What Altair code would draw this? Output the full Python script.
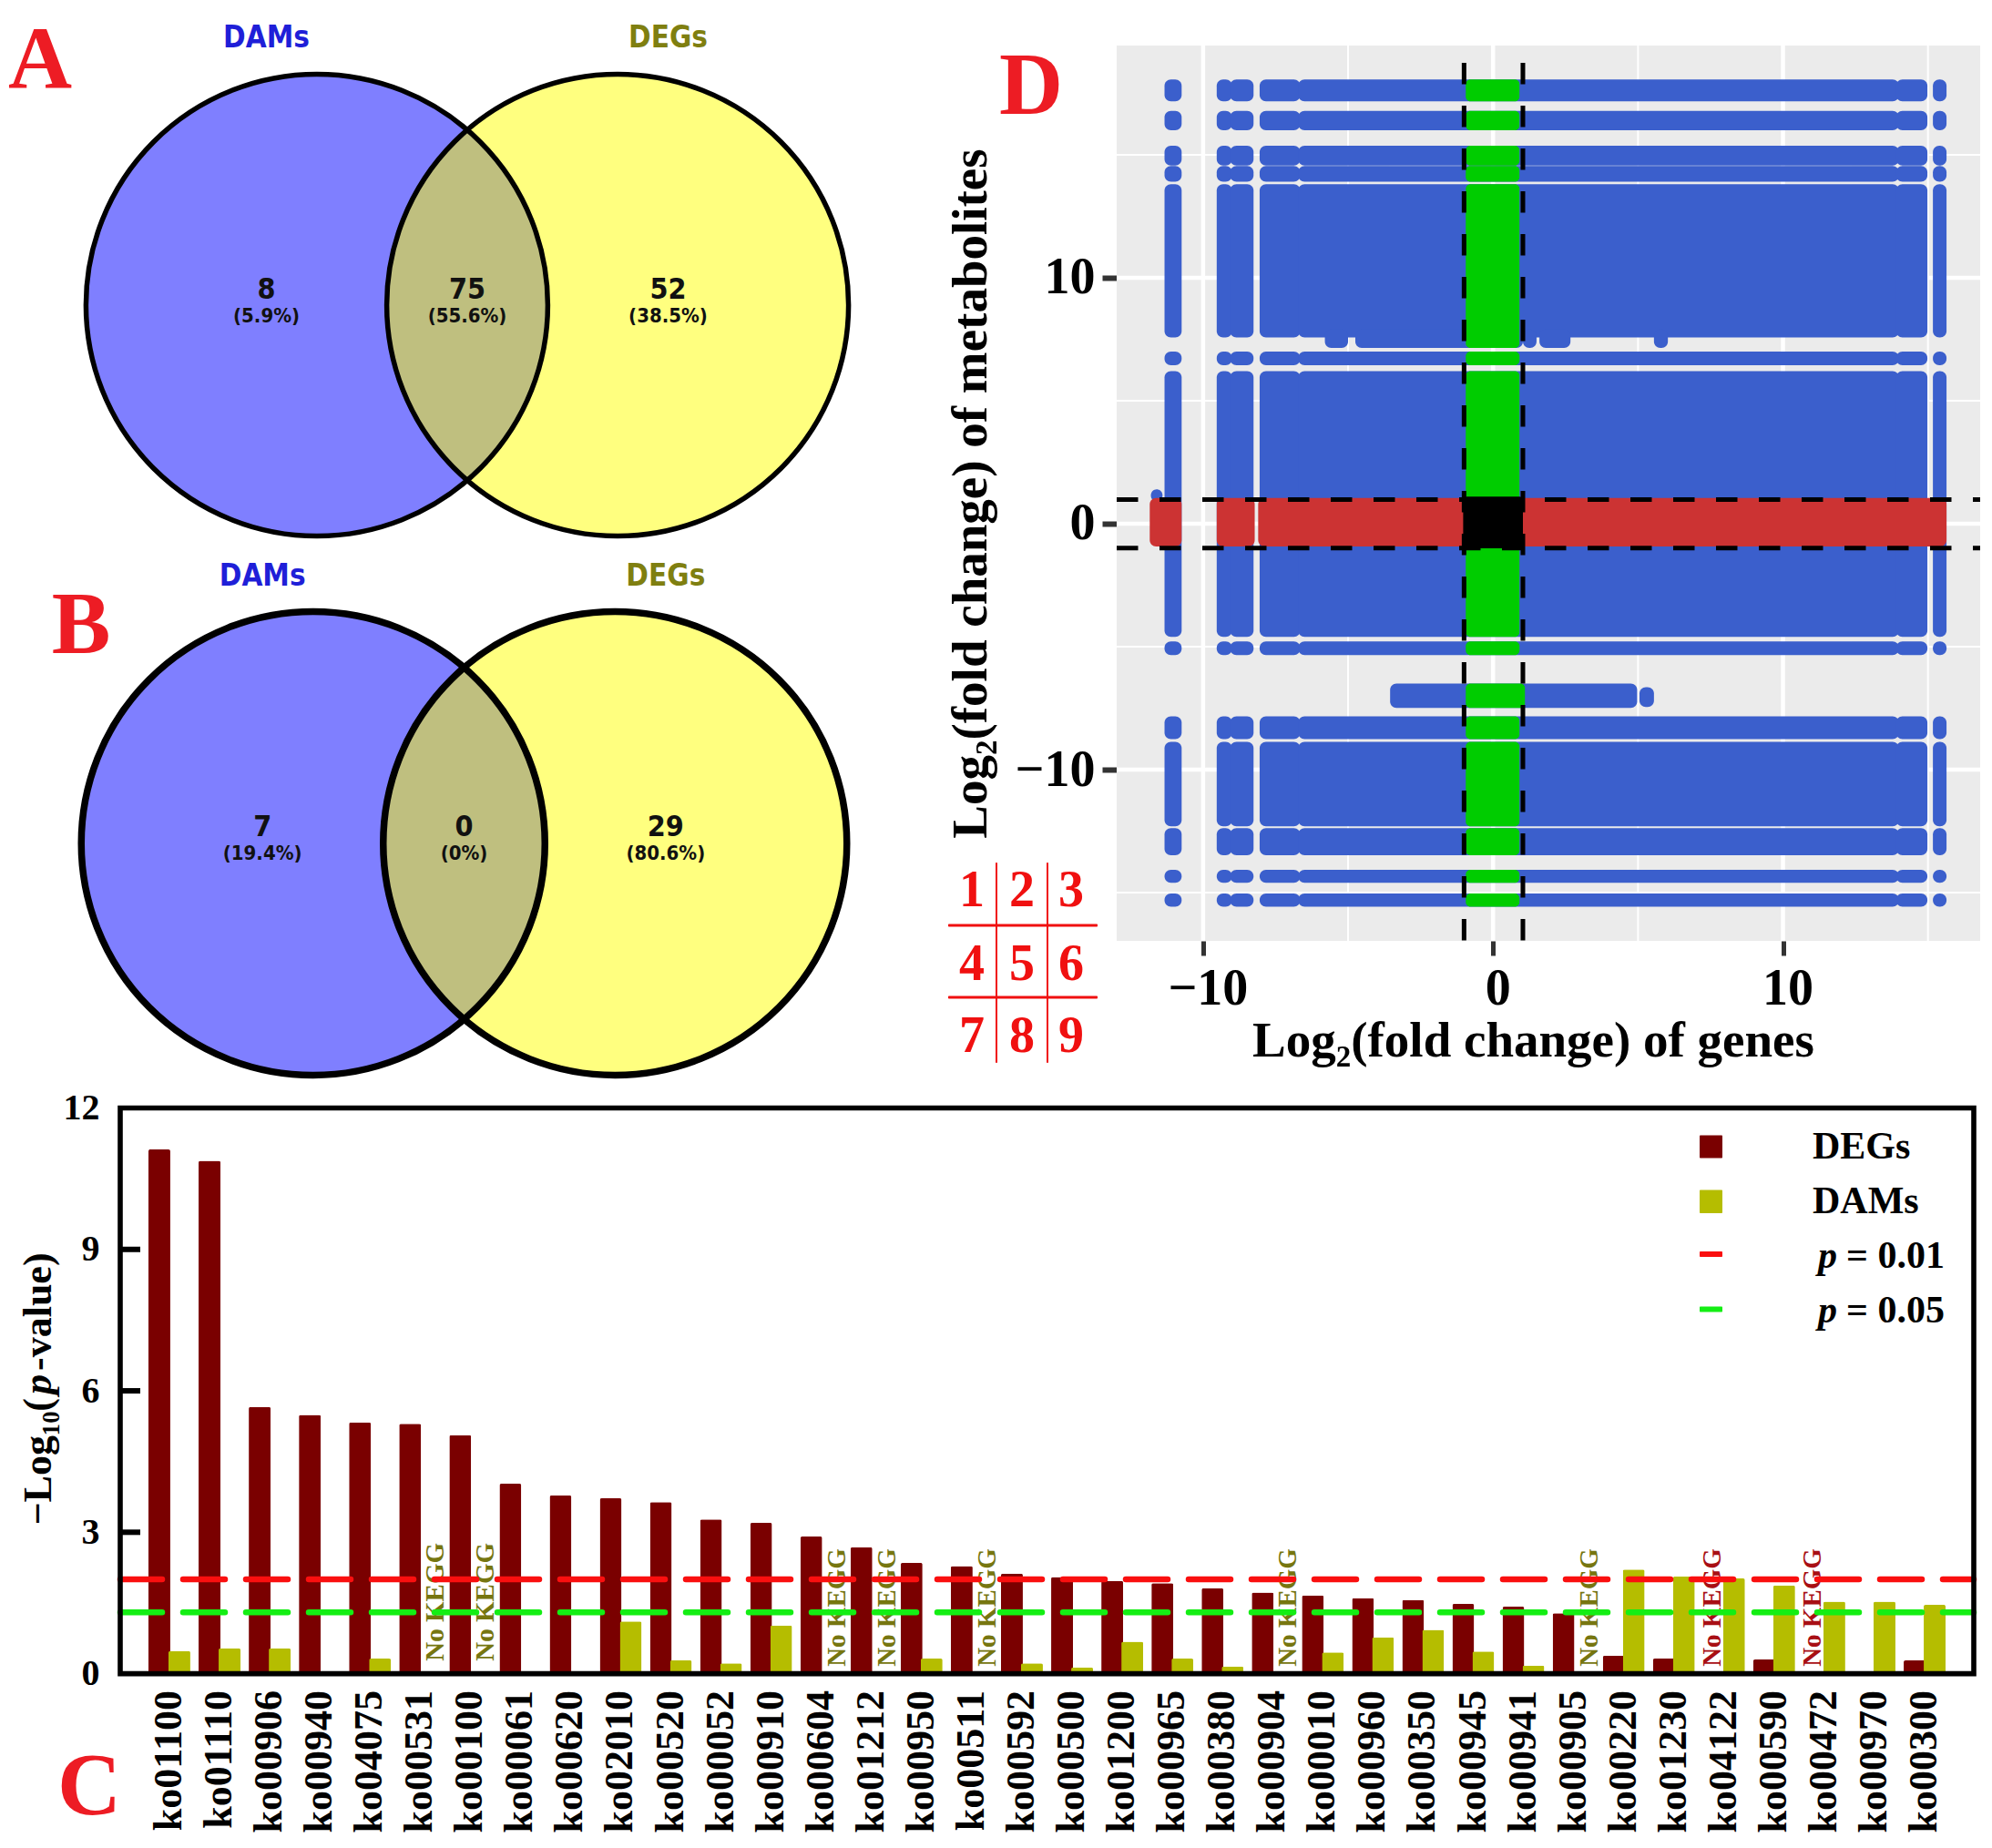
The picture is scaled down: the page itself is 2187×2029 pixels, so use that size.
import altair as alt
import pandas as pd

SERIF = "Liberation Serif"
SANS = "DejaVu Sans Condensed"
BLUE = "#3b5fcc"; RED = "#cc3333"; GREEN = "#00cc00"
LETTER = "#ed1c24"

# ---------- Venn panels (units: circle radius) ----------
venn_sets = ["DAMs", "DEGs"]
venn_cx = [-0.65, 0.65]
venn_fill = ["#0000ff", "#ffff00"]
venn_title_col = ["#1f1fd8", "#7f7f10"]
venn_text_x = [-0.868, 0.0, 0.868]
venn_a_counts = ["8", "75", "52"]
venn_a_pct = ["(5.9%)", "(55.6%)", "(38.5%)"]
venn_b_counts = ["7", "0", "29"]
venn_b_pct = ["(19.4%)", "(0%)", "(80.6%)"]

# ---------- Bars (panel C) ----------
kos = ["ko01100","ko01110","ko00906","ko00940","ko04075","ko00531","ko00100","ko00061","ko00620",
       "ko02010","ko00520","ko00052","ko00910","ko00604","ko01212","ko00950","ko00511","ko00592",
       "ko00500","ko01200","ko00965","ko00380","ko00904","ko00010","ko00960","ko00350","ko00945",
       "ko00941","ko00905","ko00220","ko01230","ko04122","ko00590","ko00472","ko00970","ko00300"]
degs = [11.12,10.88,5.66,5.49,5.33,5.30,5.06,4.03,3.78,3.72,3.64,3.27,3.20,2.91,2.68,2.35,2.28,2.12,
        2.05,1.97,1.92,1.81,1.72,1.66,1.60,1.56,1.48,1.42,1.28,0.38,0.32,None,0.30,None,None,0.28]
dams = [0.48,0.54,0.54,None,0.32,None,None,None,None,1.11,0.28,0.22,1.02,None,None,0.32,None,0.22,
        0.13,0.68,0.32,0.15,None,0.45,0.77,0.93,0.47,0.17,None,2.21,2.06,2.02,1.87,1.53,1.53,1.46]
no_kegg_dam_high = ["ko00531","ko00100"]
no_kegg_dam = ["ko00604","ko01212","ko00511","ko00904","ko00905"]
no_kegg_deg = ["ko04122","ko00472"]
p_lines = [2.0, 1.3]

# ---------- Scatter extents (panel D): occupied bands of the log2 fold changes ----------
x_bands = [(-11.33,-10.74),(-9.53,-9.0),(-9.07,-8.26),(-8.05,-6.65),(-6.72,14.0),(13.9,14.98),(15.17,15.64)]
y_bands = [(18.06,17.17),(16.78,16.0),(15.37,14.56),(14.54,13.9),(13.8,7.57),(7.0,6.44),(6.2,-4.6),
           (-4.79,-5.34),(-7.83,-8.76),(-8.87,-12.3),(-12.38,-13.48),(-14.07,-14.6),(-15.03,-15.57)]
extra_blue = [(-5.8,-5.0,7.9,7.15),(-4.75,1.03,7.9,7.15),(1.03,1.5,7.9,7.15),(1.6,2.67,7.9,7.15),
              (5.55,6.03,7.9,7.15),(-3.55,4.97,-6.5,-7.49),(5.05,5.55,-6.65,-7.45),(-11.8,-11.4,1.4,0.9)]
red_x = [(-11.84,-10.74),(-9.53,-8.22),(-8.1,15.64)]
red_y = (1.05,-0.93)
green_x = (-0.94,0.91)
extra_green = [(-0.94,1.1,-6.5,-7.49),(-0.94,0.91,7.9,7.15)]
black_box = (-1.03,1.03,1.1,-1.0)

X_DOM = [-12.98, 16.8]
Y_DOM = [-16.96, 19.44]
x_major = [-10, 0, 10]; x_minor = [-5, 5, 15]
y_major = [-10, 0, 10]; y_minor = [-15, -5, 5, 15]

# ---------- helpers (page pixels -> canvas) ----------
ONE = alt.InlineData(values=[{"a": 1}])
def px(v): return v - 8

def txt(s, x, y, size, color="black", font=SERIF, weight="bold", style="normal", angle=0, align="center"):
    return alt.Chart(ONE).mark_text(font=font, fontSize=size, fontWeight=weight, fontStyle=style, color=color,
                                    angle=angle, align=align, baseline="middle").encode(
        x=alt.value(px(x)), y=alt.value(px(y)), text=alt.value(s))

def box(x1, x2, y1, y2, color):
    return alt.Chart(ONE).mark_rect(color=color, cornerRadius=1).encode(
        x=alt.value(px(x1)), x2=alt.value(px(x2)), y=alt.value(px(y1)), y2=alt.value(px(y2)))

# ---------- Venn ----------
def venn(xc, yc, r, stroke, counts, pct, ycount, ypct, ytitle):
    xs = alt.Scale(domain=[-1, 1], range=[px(xc - r), px(xc + r)])
    ys = alt.Scale(domain=[-1, 1], range=[px(yc + r), px(yc - r)])
    circ = pd.DataFrame({"name": venn_sets, "cx": venn_cx, "cy": [0, 0], "fill": venn_fill, "tc": venn_title_col})
    X = alt.X("cx:Q", scale=xs, axis=None); Y = alt.Y("cy:Q", scale=ys, axis=None)
    size = (2 * (r - 0.5)) ** 2
    fills = alt.Chart(circ).mark_point(shape="circle", filled=True, size=size, fillOpacity=0.5, opacity=1, strokeWidth=0).encode(
        x=X, y=Y, fill=alt.Fill("fill:N", scale=None))
    lines = alt.Chart(circ).mark_point(shape="circle", filled=False, size=size, stroke="black", strokeWidth=stroke, opacity=1, fillOpacity=0).encode(x=X, y=Y)
    t = pd.DataFrame({"name": venn_sets, "tx": [venn_text_x[0], venn_text_x[2]], "ty": [ytitle, ytitle], "tc": venn_title_col})
    titles = alt.Chart(t).mark_text(font=SANS, fontWeight="bold", fontSize=33).encode(
        x=alt.X("tx:Q", scale=xs, axis=None), y=alt.Y("ty:Q", scale=ys, axis=None), text="name:N", color=alt.Color("tc:N", scale=None))
    nums = pd.DataFrame({"tx": venn_text_x, "ty": [ycount] * 3, "s": counts})
    pcts = pd.DataFrame({"tx": venn_text_x, "ty": [ypct] * 3, "s": pct})
    n = alt.Chart(nums).mark_text(font=SANS, fontWeight="bold", fontSize=32, color="#111").encode(
        x=alt.X("tx:Q", scale=xs, axis=None), y=alt.Y("ty:Q", scale=ys, axis=None), text="s:N")
    p = alt.Chart(pcts).mark_text(font=SANS, fontWeight="bold", fontSize=22, color="#111").encode(
        x=alt.X("tx:Q", scale=xs, axis=None), y=alt.Y("ty:Q", scale=ys, axis=None), text="s:N")
    return [fills, lines, titles, n, p]

venn_a = venn(513, 335, 254, 5.5, venn_a_counts, venn_a_pct, 0.065, -0.047, 1.155)
venn_b = venn(509.5, 926, 255, 7.5, venn_b_counts, venn_b_pct, 0.07, -0.045, 1.149)

# ---------- Panel D ----------
DX = alt.Scale(domain=X_DOM, range=[px(1226), px(2174)], nice=False, zero=False)
DY = alt.Scale(domain=Y_DOM, range=[px(1033), px(50)], nice=False, zero=False)

def rects(rows, color, radius=7):
    df = pd.DataFrame(rows, columns=["x1", "x2", "y1", "y2"])
    return alt.Chart(df).mark_rect(color=color, cornerRadius=radius).encode(
        x=alt.X("x1:Q", scale=DX, axis=None), x2="x2:Q",
        y=alt.Y("y1:Q", scale=DY, axis=None), y2="y2:Q")

def vrules(vals, width, color="white", lo=Y_DOM[0], hi=Y_DOM[1], dash=None):
    df = pd.DataFrame({"v": vals, "lo": lo, "hi": hi})
    kw = {"strokeDash": dash} if dash else {}
    return alt.Chart(df).mark_rule(color=color, strokeWidth=width, **kw).encode(
        x=alt.X("v:Q", scale=DX, axis=None), y=alt.Y("hi:Q", scale=DY, axis=None), y2="lo:Q")

def hrules(vals, width, color="white", dash=None):
    df = pd.DataFrame({"v": vals, "lo": X_DOM[0], "hi": X_DOM[1]})
    kw = {"strokeDash": dash} if dash else {}
    return alt.Chart(df).mark_rule(color=color, strokeWidth=width, **kw).encode(
        y=alt.Y("v:Q", scale=DY, axis=None), x=alt.X("lo:Q", scale=DX, axis=None), x2="hi:Q")

bg_df = pd.DataFrame({"x1": [X_DOM[0]], "x2": [X_DOM[1]], "y1": [Y_DOM[0]], "y2": [Y_DOM[1]]})
d_bg = alt.Chart(bg_df).mark_rect(color="#ebebeb").encode(
    x=alt.X("x1:Q", scale=DX, axis=alt.Axis(
        orient="bottom", offset=px(1033) - 2013, values=x_major, grid=False, domain=False,
        tickColor="#333333", tickWidth=5, tickSize=16,
        labelFont=SERIF, labelFontWeight="bold", labelFontSize=56, labelColor="black", labelPadding=9,
        labelOffset=5, title="Log₂(fold change) of genes", titleFont=SERIF, titleFontWeight="bold", titleFontSize=55,
        titleColor="black", titlePadding=3, titleX=px(1683))),
    x2="x2:Q",
    y=alt.Y("y1:Q", scale=DY, axis=alt.Axis(
        orient="left", offset=-px(1226), values=y_major, grid=False, domain=False,
        tickColor="#333333", tickWidth=6, tickSize=16,
        labelFont=SERIF, labelFontWeight="bold", labelFontSize=56, labelColor="black", labelPadding=8,
        title="Log₂(fold change) of metabolites", titleFont=SERIF, titleFontWeight="bold", titleFontSize=55,
        titleColor="black", titlePadding=20)),
    y2="y2:Q")

blue_rows = [(a, b, c, d) for (a, b) in x_bands for (c, d) in y_bands] + extra_blue
red_rows = [(a, b, red_y[0], red_y[1]) for (a, b) in red_x]
green_rows = [(green_x[0], green_x[1], c, d) for (c, d) in y_bands] + extra_green

panel_d = [
    d_bg,
    vrules(x_minor, 2), hrules(y_minor, 2), vrules(x_major, 4.5), hrules(y_major, 4.5),
    rects(blue_rows, BLUE), rects(red_rows, RED), rects(green_rows, GREEN, 5), rects([black_box], "black", 4),
    vrules([-1.0, 1.03], 5, "black", hi=18.74, dash=[23.5, 23.5]),
    hrules([0.98, -0.99], 5, "black", dash=[23.5, 23.5]),
]

# ---------- Panel C ----------
CX = alt.Scale(type="band", domain=kos, range=[px(132), px(2167)], paddingInner=0, paddingOuter=0.48)
CY = alt.Scale(domain=[0, 12], range=[px(1837.6), px(1216.5)], nice=False)
c_x_axis = alt.Axis(orient="bottom", offset=px(1837.6) - 2013, labelAngle=270, labelAlign="right", labelBaseline="middle",
                    labelFont=SERIF, labelFontWeight="bold", labelFontSize=44, labelColor="black", labelPadding=18,
                    ticks=False, domain=False, title=None, labelOverlap=False)
c_y_axis = alt.Axis(orient="left", offset=-px(132), values=[0, 3, 6, 9, 12], ticks=False, domain=False, grid=False,
                    labelFont=SERIF, labelFontWeight="bold", labelFontSize=40, labelColor="black", labelPadding=23, title=None)

def bars(names, vals, color, offset, axes=False):
    df = pd.DataFrame({"ko": names, "v": vals}).dropna()
    return alt.Chart(df).mark_bar(color=color, width=24, xOffset=offset, cornerRadius=2).encode(
        x=alt.X("ko:N", scale=CX, sort=kos, axis=c_x_axis if axes else None),
        y=alt.Y("v:Q", scale=CY, axis=c_y_axis if axes else None))

def kegg(names, color, offset, base):
    df = pd.DataFrame({"ko": names, "b": base})
    return alt.Chart(df).mark_text(text="No KEGG", angle=270, align="left", baseline="middle", font=SERIF, fontWeight="bold",
                                   fontSize=29, color=color, xOffset=offset).encode(
        x=alt.X("ko:N", scale=CX, sort=kos, axis=None), y=alt.Y("b:Q", scale=CY, axis=None))

def plines(v, color):
    df = pd.DataFrame({"v": [v]})
    return alt.Chart(df).mark_rule(color=color, strokeWidth=6.5, strokeDash=[46, 23], strokeCap="round").encode(
        x=alt.value(px(132)), x2=alt.value(px(2167)), y=alt.Y("v:Q", scale=CY, axis=None))

tick_df = pd.DataFrame({"v": [3, 6, 9]})
c_ticks = alt.Chart(tick_df).mark_rule(color="black", strokeWidth=6).encode(
    x=alt.value(px(132)), x2=alt.value(px(154)), y=alt.Y("v:Q", scale=CY, axis=None))
frame_df = pd.DataFrame({"a": [0], "b": [12]})
c_frame = alt.Chart(frame_df).mark_rect(fillOpacity=0, stroke="black", strokeWidth=5.6).encode(
    x=alt.value(px(132)), x2=alt.value(px(2167)), y=alt.Y("a:Q", scale=CY, axis=None), y2="b:Q")

panel_c = [
    bars(kos, degs, "#7a0000", -11, axes=True),
    bars(kos, dams, "#b5bd00", 11),
    kegg(no_kegg_dam_high, "#767610", 17, 0.27),
    kegg(no_kegg_dam, "#767610", 17, 0.15),
    kegg(no_kegg_deg, "#a80f14", -13, 0.15),
    plines(p_lines[0], "#fa0f0f"), plines(p_lines[1], "#14ee14"),
    c_ticks, c_frame,
]

# ---------- Legend and annotations ----------
annot = [
    box(1866, 1891, 1246.5, 1271.5, "#7a0000"), box(1866, 1891, 1306.5, 1332, "#b5bd00"),
    box(1866, 1891, 1374, 1380, "#fa0f0f"), box(1866, 1891, 1434.5, 1440.5, "#14ee14"),
    txt("DEGs", 1990, 1259, 42, align="left"), txt("DAMs", 1990, 1319, 42, align="left"),
    txt("p", 1996, 1379, 42, style="italic", align="left"), txt("= 0.01", 2027, 1379, 42, align="left"),
    txt("p", 1996, 1439, 42, style="italic", align="left"), txt("= 0.05", 2027, 1439, 42, align="left"),
    txt("−Log₁₀(", 43, 1535, 44, angle=270, align="right"),
    txt("p", 43, 1520, 44, style="italic", angle=270),
    txt("-value)", 43, 1505, 44, angle=270, align="left"),
    txt("A", 44, 67, 97, color=LETTER), txt("B", 89, 688, 97, color=LETTER),
    txt("C", 98, 1963, 97, color=LETTER), txt("D", 1132, 96, 97, color=LETTER),
]
# 3x3 key of the scatter's quadrants
key_x = [1067, 1122, 1176]
key_y = [978, 1059, 1138]
key_n = [["1", "2", "3"], ["4", "5", "6"], ["7", "8", "9"]]
for r, yy in enumerate(key_y):
    for c, xx in enumerate(key_x):
        annot.append(txt(key_n[r][c], xx, yy, 56, color="#f01010"))
for xx in [1094, 1150]:
    annot.append(box(xx - 1, xx + 1, 947, 1167, "#f01010"))
for yy in [1016, 1095]:
    annot.append(box(1041, 1205, yy - 1.5, yy + 1.5, "#f01010"))

chart = alt.layer(*venn_a, *venn_b, *panel_d, *panel_c, *annot).resolve_scale(
    x="independent", y="independent", color="independent", fill="independent"
).properties(width=2171, height=2013, padding=0, background="white",
             autosize=alt.AutoSizeParams(type="none")).configure_view(stroke=None)

chart.save("out.html", embed_options={"renderer": "svg", "actions": False})
